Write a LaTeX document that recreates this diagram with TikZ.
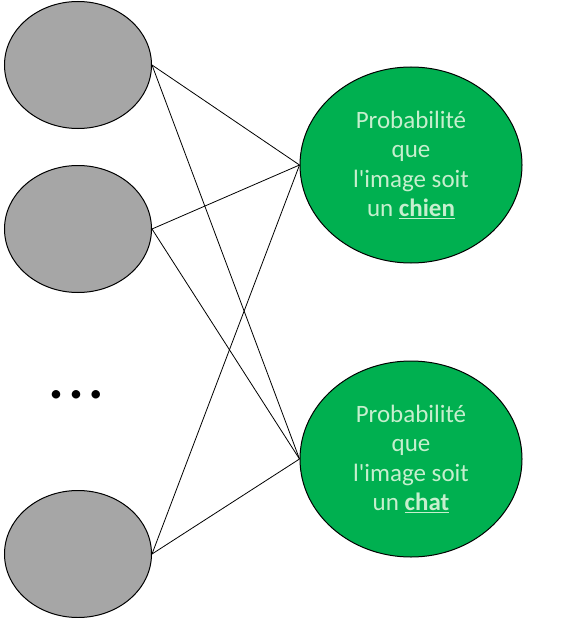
\documentclass[tikz,border=0pt]{standalone}
\usepackage{fontspec}
\setmainfont{Carlito}
\usepackage{tikz}
\usetikzlibrary{shapes.geometric}
\definecolor{neurongray}{RGB}{166,166,166}
\definecolor{outgreen}{RGB}{0,176,80}
\definecolor{outtext}{RGB}{198,239,206}

\begin{document}
\begin{tikzpicture}[x=1pt,y=-1pt,
    entree/.style={ellipse,draw,line width=1pt,fill=neurongray,minimum width=147pt,minimum height=127pt,inner sep=0pt},
    sortie/.style={ellipse,draw,line width=1pt,fill=outgreen,minimum width=222pt,minimum height=196pt,inner sep=0pt,
      text=outtext,align=center,font=\fontsize{25}{29.5}\selectfont},
    lien/.style={line width=0.8pt}]
          \useasboundingbox (0,0) rectangle (563,618);
          \node[entree] (e1) at (78,65) {};
          \node[entree] (e2) at (78,229) {};
          \node[entree] (e3) at (78,554) {};
          \node[font=\fontsize{24}{24}\selectfont] (dots) at (76,396) {•\hspace{8pt}•\hspace{8pt}•};

          \node[sortie] (chien) at (411,165) {Probabilité\\que\\l\textquotesingle image soit\\un \underline{\textbf{chien}}};
          \node[sortie] (chat) at (411,459) {Probabilité\\que\\l\textquotesingle image soit\\un \underline{\textbf{chat}}};

          \foreach \e in {e1,e2,e3}
            \foreach \s in {chien,chat}
              \draw[lien] (\e.east) -- (\s.west);
        \end{tikzpicture}
\end{document}
